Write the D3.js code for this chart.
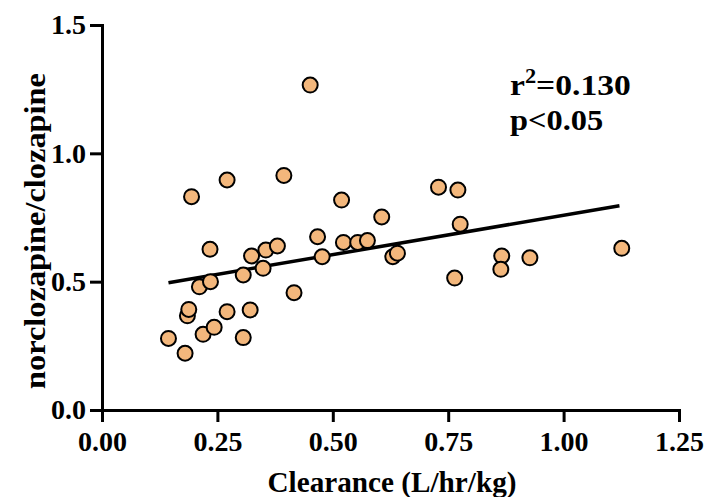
<!DOCTYPE html>
<html>
<head>
<meta charset="utf-8">
<script src="https://cdn.jsdelivr.net/npm/d3@7"></script>
<style>
  html, body { margin: 0; padding: 0; background: #fff; }
  svg { display: block; }
  text { font-family: "Liberation Serif", "Times New Roman", serif; font-weight: bold; fill: #000; }
</style>
</head>
<body>
<svg id="chart" width="706" height="497"></svg>
<script>
// ---- data ----
const clearance = [0.144, 0.180, 0.185, 0.188, 0.194, 0.211, 0.219, 0.234, 0.235, 0.243,
                   0.271, 0.271, 0.306, 0.306, 0.321, 0.324, 0.355, 0.349, 0.380, 0.394,
                   0.416, 0.451, 0.467, 0.477, 0.519, 0.523, 0.554, 0.575, 0.606, 0.630,
                   0.640, 0.729, 0.764, 0.771, 0.776, 0.866, 0.864, 0.927, 1.126];
const ratio = [0.279, 0.221, 0.367, 0.392, 0.831, 0.480, 0.295, 0.626, 0.500, 0.322,
               0.896, 0.383, 0.282, 0.526, 0.390, 0.600, 0.623, 0.552, 0.639, 0.914,
               0.457, 1.266, 0.675, 0.597, 0.818, 0.653, 0.653, 0.660, 0.752, 0.597,
               0.611, 0.868, 0.514, 0.857, 0.724, 0.600, 0.548, 0.593, 0.630];
const fitX = [0.144, 1.121];
const fitY = [0.496, 0.796];
const xTicks = [0, 0.25, 0.5, 0.75, 1.0, 1.25];
const yTicks = [0, 0.5, 1.0, 1.5];
const xTitle = "Clearance (L/hr/kg)";
const yTitle = "norclozapine/clozapine";
const statR2 = "0.130";
const statP = "p<0.05";

// ---- layout ----
const svg = d3.select("#chart");
const x = d3.scaleLinear().domain([0, 1.25]).range([102, 679]);
const y = d3.scaleLinear().domain([0, 1.5]).range([410, 25]);

const xAxis = d3.axisBottom(x).tickValues(xTicks).tickFormat(d3.format(".2f"))
  .tickSize(12).tickPadding(9).tickSizeOuter(0);
const yAxis = d3.axisLeft(y).tickValues(yTicks).tickFormat(d3.format(".1f"))
  .tickSize(12).tickPadding(4).tickSizeOuter(0);

const gx = svg.append("g").attr("transform", `translate(0,${y(0)})`).call(xAxis);
const gy = svg.append("g").attr("transform", `translate(${x(0)},0)`).call(yAxis);
[gx, gy].forEach(g => {
  g.attr("font-family", null).attr("font-size", null);
  g.selectAll("path.domain").attr("stroke", "#000").attr("stroke-width", 3).attr("stroke-linecap", "square");
  g.selectAll(".tick line").attr("stroke", "#000").attr("stroke-width", 3);
  g.selectAll(".tick text").attr("font-size", 28).attr("fill", "#000");
});

// regression line
const line = d3.line().x(d => x(d[0])).y(d => y(d[1]));
svg.append("path")
  .datum(d3.zip(fitX, fitY))
  .attr("d", line)
  .attr("fill", "none")
  .attr("stroke", "#000")
  .attr("stroke-width", 3.5);

// points
svg.append("g").selectAll("circle")
  .data(d3.zip(clearance, ratio))
  .join("circle")
  .attr("cx", d => x(d[0]))
  .attr("cy", d => y(d[1]))
  .attr("r", 7.5)
  .attr("fill", "#f3b77c")
  .attr("stroke", "#000")
  .attr("stroke-width", 2);

// axis titles
svg.append("text")
  .attr("x", 392).attr("y", 492)
  .attr("text-anchor", "middle")
  .attr("font-size", 29)
  .attr("textLength", 249)
  .attr("lengthAdjust", "spacingAndGlyphs")
  .text(xTitle);

svg.append("text")
  .attr("transform", "translate(45,231) rotate(-90)")
  .attr("text-anchor", "middle")
  .attr("font-size", 29)
  .attr("textLength", 316)
  .attr("lengthAdjust", "spacingAndGlyphs")
  .text(yTitle);

// stats
const t1 = svg.append("text").attr("transform", "translate(510,95) scale(1.12,1)").attr("font-size", 30);
t1.append("tspan").text("r");
t1.append("tspan").attr("font-size", 20).attr("dy", -12).text("2");
t1.append("tspan").attr("dy", 12).text("=" + statR2);
svg.append("text").attr("transform", "translate(510,130) scale(1.08,1)").attr("font-size", 30).text(statP);
</script>
</body>
</html>
